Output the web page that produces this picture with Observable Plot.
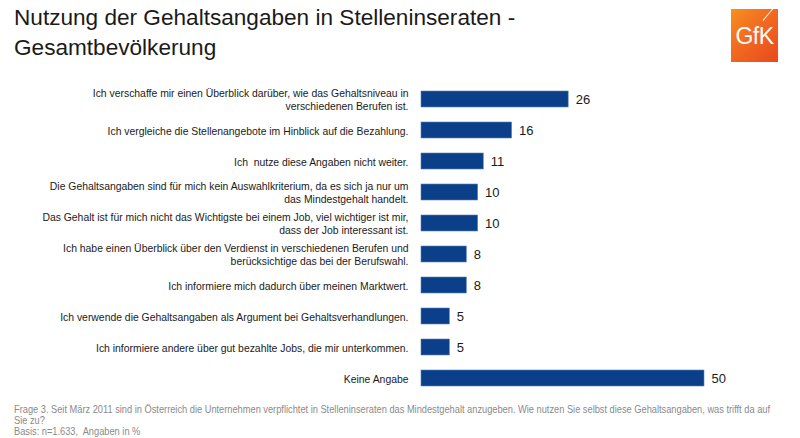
<!DOCTYPE html>
<html>
<head>
<meta charset="utf-8">
<script src="https://cdn.jsdelivr.net/npm/d3@7"></script>
<script src="https://cdn.jsdelivr.net/npm/@observablehq/plot@0.6"></script>
<style>
  html, body { margin: 0; padding: 0; background: #fff; }
  body { width: 800px; height: 438px; position: relative; overflow: hidden; font-family: "Liberation Sans", Arial, sans-serif; }
  #title { position: absolute; left: 14px; top: 3px; font-size: 22.6px; line-height: 30px; color: #1a1a1a; white-space: nowrap; }
  #chart { position: absolute; left: 0; top: 64px; }
  #footer { position: absolute; left: 14px; top: 404px; font-family: "Liberation Sans Narrow", "Arial Narrow", "Liberation Sans", sans-serif; font-size: 10.5px; line-height: 11px; color: #8a8a8a; white-space: nowrap; transform-origin: 0 0; }
  #logo { position: absolute; left: 731px; top: 9px; width: 47px; height: 53px;
    background: linear-gradient(135deg, #f7901e 0%, #f26a21 45%, #e8491d 100%);
    color: #fff; font-family: "Liberation Sans", Arial, sans-serif; font-size: 23px; line-height: 55px; text-align: center; letter-spacing: -0.5px; overflow: hidden; }
  #logo .shine { position: absolute; right: 2px; top: 5px; width: 16px; height: 1px; background: rgba(255,255,255,0.85); transform: rotate(-50deg); }
</style>
</head>
<body>
<div id="title">Nutzung der Gehaltsangaben in Stelleninseraten -<br>Gesamtbevölkerung</div>
<div id="logo"><span class="shine"></span>GfK</div>
<div id="chart"></div>
<div id="footer"><span id="fl1">Frage 3. Seit März 2011 sind in Österreich die Unternehmen verpflichtet in Stelleninseraten das Mindestgehalt anzugeben. Wie nutzen Sie selbst diese Gehaltsangaben, was trifft da auf</span><br>Sie zu?<br>Basis: n=1.633,&nbsp; Angaben in %</div>
<script>
const categories = [
  "Ich verschaffe mir einen Überblick darüber, wie das Gehaltsniveau in\nverschiedenen Berufen ist.",
  "Ich vergleiche die Stellenangebote im Hinblick auf die Bezahlung.",
  "Ich  nutze diese Angaben nicht weiter.",
  "Die Gehaltsangaben sind für mich kein Auswahlkriterium, da es sich ja nur um\ndas Mindestgehalt handelt.",
  "Das Gehalt ist für mich nicht das Wichtigste bei einem Job, viel wichtiger ist mir,\ndass der Job interessant ist.",
  "Ich habe einen Überblick über den Verdienst in verschiedenen Berufen und\nberücksichtige das bei der Berufswahl.",
  "Ich informiere mich dadurch über meinen Marktwert.",
  "Ich verwende die Gehaltsangaben als Argument bei Gehaltsverhandlungen.",
  "Ich informiere andere über gut bezahlte Jobs, die mir unterkommen.",
  "Keine Angabe"
];
const values = [26, 16, 11, 10, 10, 8, 8, 5, 5, 50];

const data = categories.map((c, i) => ({category: c, value: values[i]}));

const chart = Plot.plot({
  width: 800,
  height: 340,
  marginLeft: 421,
  marginRight: 96,
  marginTop: 9,
  marginBottom: 0,
  x: {domain: [0, 50], axis: null},
  y: {domain: categories, axis: null, paddingInner: 0.5, paddingOuter: 0.5},
  style: {fontFamily: "'Liberation Sans', Arial, sans-serif", background: "#fff"},
  marks: [
    Plot.barX(data, {x: "value", y: "category", fill: "#0b3f8a", stroke: "#5a7fb5", strokeWidth: 0.6}),
    Plot.text(data, {x: 0, y: "category", text: "category", textAnchor: "end", dx: -13, fontSize: 10.4, lineHeight: 1.2, fill: "#1a1a1a"}),
    Plot.text(data, {x: "value", y: "category", text: d => String(d.value), textAnchor: "start", dx: 7, fontSize: 13, fill: "#1a1a1a"})
  ]
});
document.getElementById("chart").appendChild(chart);

// condense the footnote to the reference's narrow width
const footer = document.getElementById("footer");
const w = document.getElementById("fl1").getBoundingClientRect().width;
const target = 756;
if (w > 0) footer.style.transform = `scaleX(${target / w})`;
</script>
</body>
</html>
